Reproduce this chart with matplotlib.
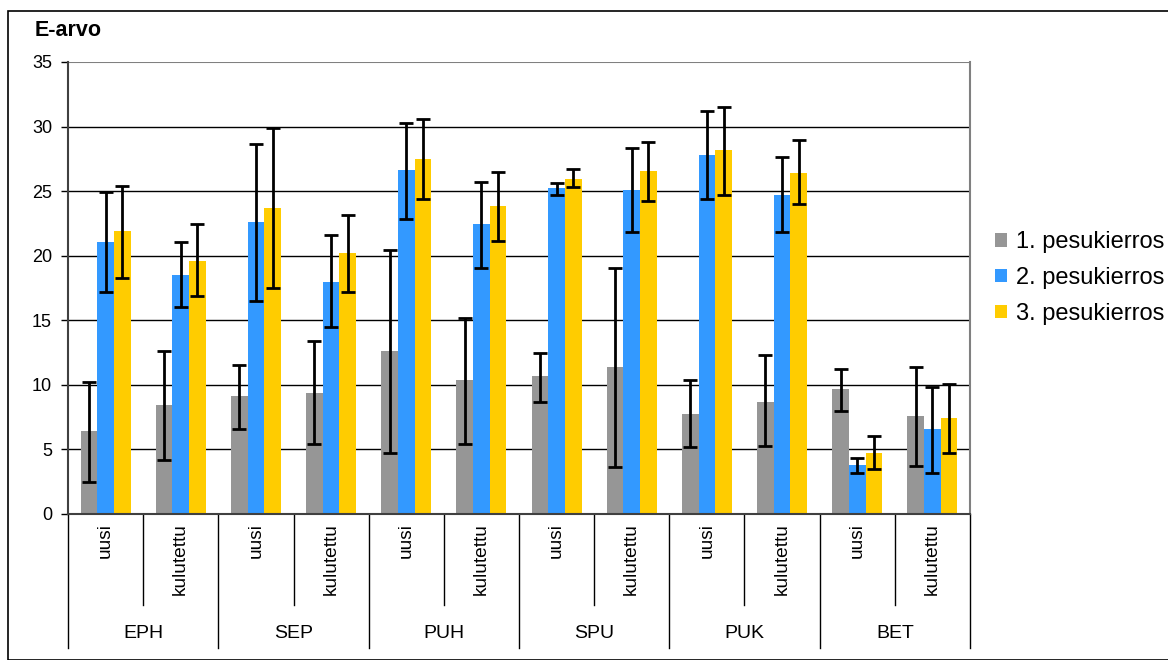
import matplotlib
matplotlib.use("Agg")
import matplotlib.pyplot as plt
import numpy as np
from matplotlib.patches import Rectangle

plt.rcParams['font.family'] = ['Liberation Sans', 'DejaVu Sans']

groups = ["EPH", "SEP", "PUH", "SPU", "PUK", "BET"]
subgroups = ["uusi", "kulutettu"]
series = ["1. pesukierros", "2. pesukierros", "3. pesukierros"]

# mean values, order: EPH uusi, EPH kulutettu, SEP uusi, ...
k1 = [6.45, 8.45, 9.15, 9.4, 12.65, 10.4, 10.7, 11.4, 7.75, 8.7, 9.7, 7.6]
k2 = [21.05, 18.5, 22.6, 18.0, 26.6, 22.45, 25.25, 25.1, 27.8, 24.7, 3.8, 6.6]
k3 = [21.9, 19.6, 23.7, 20.2, 27.5, 23.85, 25.95, 26.55, 28.15, 26.4, 4.75, 7.45]

# error bar ends (low, high)
k1_lo = [2.5, 4.2, 6.6, 5.45, 4.75, 5.45, 8.7, 3.65, 5.15, 5.3, 8.0, 3.75]
k1_hi = [10.25, 12.65, 11.55, 13.4, 20.45, 15.2, 12.5, 19.05, 10.4, 12.3, 11.25, 11.4]
k2_lo = [17.2, 16.05, 16.5, 14.5, 22.85, 19.05, 24.7, 21.85, 24.4, 21.85, 3.2, 3.2]
k2_hi = [24.95, 21.05, 28.65, 21.6, 30.25, 25.7, 25.65, 28.35, 31.2, 27.65, 4.35, 9.85]
k3_lo = [18.3, 16.9, 17.5, 17.2, 24.4, 21.15, 25.3, 24.25, 24.7, 24.0, 3.5, 4.75]
k3_hi = [25.4, 22.45, 29.9, 23.15, 30.6, 26.5, 26.7, 28.8, 31.5, 28.95, 6.05, 10.1]

colors = ["#969696", "#3399FF", "#FFCC00"]

W, H = 1168, 660
fig = plt.figure(figsize=(W / 100, H / 100), dpi=100)
fig.patches.append(Rectangle((8 / W, 0), 1, 1 - 11 / H, transform=fig.transFigure,
                             fill=False, edgecolor="black", linewidth=1.2))

left, right, top, bottom = 68, 970, 62, 514
ax = fig.add_axes([left / W, 1 - bottom / H, (right - left) / W, (bottom - top) / H])

n = len(k1)
x = np.arange(n) + 0.5
bw = 0.222
vals = [k1, k2, k3]
los = [k1_lo, k2_lo, k3_lo]
his = [k1_hi, k2_hi, k3_hi]
for j in range(3):
    xs = x + (j - 1) * bw
    v = np.array(vals[j])
    ax.bar(xs, v, width=bw, color=colors[j], label=series[j], zorder=2, linewidth=0)
for j in range(3):
    xs = x + (j - 1) * bw
    v = np.array(vals[j])
    yerr = [v - np.array(los[j]), np.array(his[j]) - v]
    ax.errorbar(xs, v, yerr=yerr, fmt="none", ecolor="black", elinewidth=2,
                capsize=4.7, capthick=2, zorder=3)

ax.set_xlim(0, n)
ax.set_ylim(0, 35)
ax.set_yticks(range(0, 36, 5))
for yv in range(5, 35, 5):
    ax.axhline(yv, color="black", linewidth=1, zorder=1)
ax.axhline(35, color="#808080", linewidth=1.5, zorder=1)
for s in ["top", "bottom"]:
    ax.spines[s].set_visible(False)
ax.spines["right"].set_color("#808080")
ax.spines["right"].set_linewidth(1.5)
ax.spines["left"].set_color("#404040")
ax.spines["left"].set_linewidth(1.5)
ax.axhline(0, color="#404040", linewidth=1.5, zorder=4, clip_on=False)
ax.tick_params(axis="y", direction="out", length=5, width=1, labelsize=13, pad=6.5)
ax.set_xticks([])

# category axis with two levels
trans = ax.get_xaxis_transform()
sub_end = -(605 - bottom) / (bottom - top)
grp_end = -(648 - bottom) / (bottom - top)
for i in range(n + 1):
    yend = grp_end if i % 2 == 0 else sub_end
    ax.plot([i, i], [0, yend], transform=trans, color="black", linewidth=1, clip_on=False)
lab_y = -(523 - bottom) / (bottom - top)
for i in range(n):
    ax.text(x[i], lab_y, subgroups[i % 2], rotation=90, ha="center", va="top",
            transform=trans, fontsize=13.8)
grp_y = -(633 - bottom) / (bottom - top)
for g, name in enumerate(groups):
    ax.text(2 * g + 1, grp_y, name, ha="center", va="center", transform=trans, fontsize=14)

fig.text(35 / W, 1 - 30 / H, "E-arvo", fontsize=15.5, fontweight="bold", ha="left", va="center")

ax.legend(loc="center left", bbox_to_anchor=(995 / W, 1 - 278 / H), bbox_transform=fig.transFigure,
          frameon=False, fontsize=17, handlelength=0.5, handleheight=0.5, handletextpad=0.4,
          labelspacing=0.58, borderaxespad=0, borderpad=0)

fig.savefig("out.png", dpi=100)
